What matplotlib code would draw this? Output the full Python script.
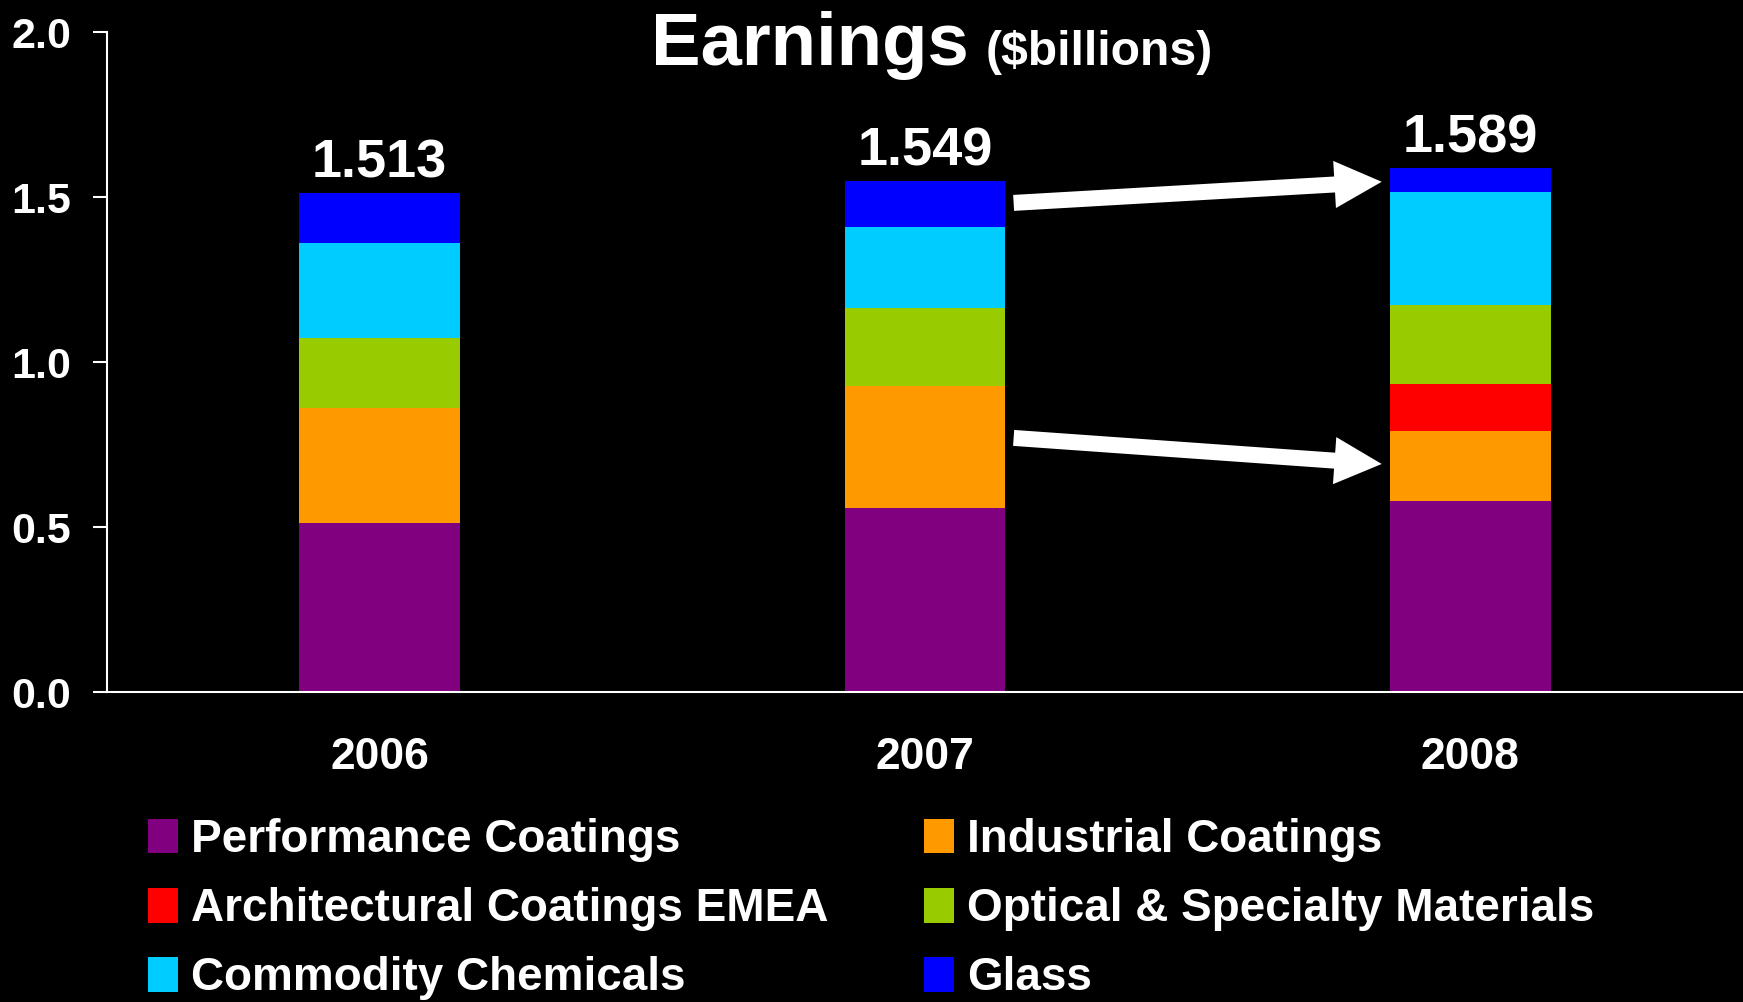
import matplotlib
matplotlib.use("Agg")
import matplotlib.pyplot as plt
from matplotlib.patches import FancyArrowPatch
import numpy as np

years = ["2006", "2007", "2008"]
segments = ["Performance Coatings", "Industrial Coatings", "Architectural Coatings EMEA",
            "Optical & Specialty Materials", "Commodity Chemicals", "Glass"]
performance_coatings = [0.513, 0.558, 0.580]
industrial_coatings = [0.348, 0.369, 0.212]
architectural_emea = [0.0, 0.0, 0.143]
optical_specialty = [0.212, 0.239, 0.240]
commodity_chemicals = [0.289, 0.244, 0.341]
glass = [0.151, 0.139, 0.073]
colors = ["#800080", "#FF9900", "#FF0000", "#99CC00", "#00CCFF", "#0000FF"]

series = [performance_coatings, industrial_coatings, architectural_emea,
          optical_specialty, commodity_chemicals, glass]

fonts = ["Liberation Sans", "DejaVu Sans"]

fig = plt.figure(figsize=(17.43, 10.02), dpi=100, facecolor="black")
ax = fig.add_axes([0.0614, 0.309, 0.9386, 0.6588], facecolor="black")

x = np.arange(len(years))
width = 0.295
bottom = np.zeros(len(years))
bars = []
for vals, name, col in zip(series, segments, colors):
    b = ax.bar(x, vals, width, bottom=bottom, color=col, label=name, linewidth=0)
    bars.append(b)
    bottom += np.array(vals)

# totals on top of each stack
for xi, tot in zip(x, bottom):
    ax.annotate(f"{tot:.3f}", (xi, tot), xytext=(0, 11), textcoords="offset points",
                ha="center", va="baseline", color="white", fontsize=39,
                fontweight="bold", family=fonts)

ax.set_xlim(-0.5, 2.5)
ax.set_ylim(0, 2.0)
ax.set_yticks([0, 0.5, 1.0, 1.5, 2.0])
ax.set_yticklabels(["0.0", "0.5", "1.0", "1.5", "2.0"])
ax.set_xticks(x)
ax.set_xticklabels(years)
for lab in ax.get_yticklabels():
    lab.set_fontsize(31)
for lab in ax.get_xticklabels():
    lab.set_fontsize(32)
for lab in ax.get_xticklabels() + ax.get_yticklabels():
    lab.set_family(fonts)
    lab.set_fontweight("bold")
    lab.set_color("white")
ax.tick_params(axis="y", direction="out", length=10, width=1.5, color="white", pad=16)
ax.tick_params(axis="x", length=0, pad=32)
for s in ["top", "right"]:
    ax.spines[s].set_visible(False)
for s in ["left", "bottom"]:
    ax.spines[s].set_color("white")
    ax.spines[s].set_linewidth(1.5)

# arrows from 2007 to 2008
arrow_style = "simple,head_length=34,head_width=34,tail_width=11.5"
for y0, y1 in [(1.483, 1.547), (0.771, 0.692)]:
    arr = FancyArrowPatch((1 + width / 2 + 0.015, y0), (2 - width / 2 - 0.015, y1),
                          arrowstyle=arrow_style, mutation_scale=1, color="white",
                          shrinkA=0, shrinkB=0, linewidth=0)
    ax.add_patch(arr)

fig.text(0.3735, 0.9351, "Earnings", color="white", fontsize=53.5, fontweight="bold",
         family=fonts, va="baseline")
fig.text(0.5655, 0.9351, "($billions)", color="white", fontsize=34.7, fontweight="bold",
         family=fonts, va="baseline")

leg_kw = dict(frameon=False, labelcolor="white", loc="upper left",
              handlelength=0.655, handleheight=0.785, handletextpad=0.28,
              labelspacing=0.55, borderpad=0, borderaxespad=0,
              prop={"family": fonts, "weight": "bold", "size": 33})
h = [b.patches[0] for b in bars]
fig.legend([h[0], h[2], h[4]], [segments[0], segments[2], segments[4]],
           bbox_to_anchor=(148 / 1743, 1 - 818 / 1002), **leg_kw)
fig.legend([h[1], h[3], h[5]], [segments[1], segments[3], segments[5]],
           bbox_to_anchor=(924 / 1743, 1 - 818 / 1002), **leg_kw)

fig.savefig("out.png", dpi=100, facecolor="black")
